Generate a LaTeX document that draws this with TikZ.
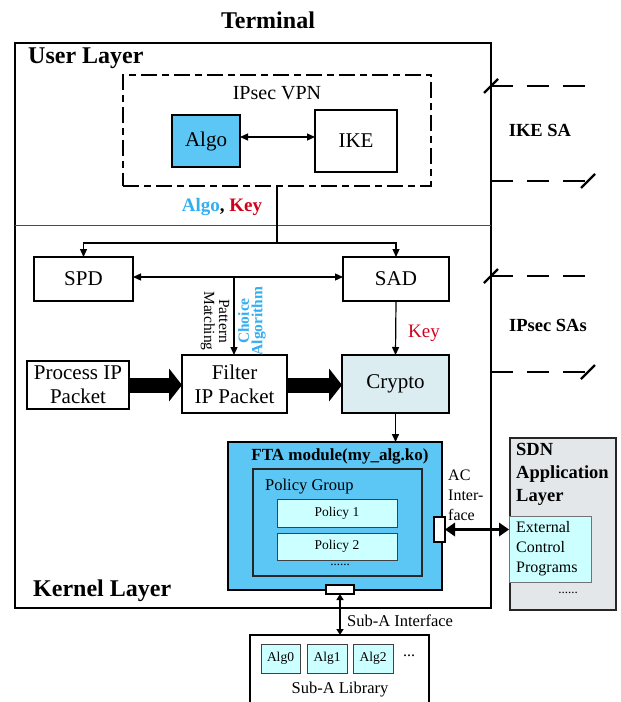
\documentclass[tikz,border=0pt]{standalone}
\usepackage{fontspec}
\setmainfont{Liberation Serif}
\usetikzlibrary{arrows.meta}
\definecolor{skyb}{HTML}{5CC6F4}
\definecolor{lcyan}{HTML}{CCFFFF}
\definecolor{cryptoc}{HTML}{DCEDF2}
\definecolor{sdnc}{HTML}{E3E7E9}
\definecolor{txtblue}{HTML}{35AEF0}
\definecolor{txtred}{HTML}{D0021B}
\begin{document}
\begin{tikzpicture}[x=1pt,y=-1pt,
  box/.style={draw=black, line width=1.2pt, inner sep=0pt, outer sep=0pt, align=center, font=\fontsize{21}{24}\selectfont},
  frame/.style={draw=black, line width=2pt, inner sep=0pt, outer sep=0pt},
  ttl/.style={font=\bfseries\fontsize{24}{28}\selectfont, inner sep=0pt},
  sa/.style={font=\bfseries\fontsize{18.5}{22}\selectfont, inner sep=0pt},
  thin/.style={line width=1.2pt, -{Triangle[length=8pt,width=7pt]}},
  thinboth/.style={line width=1.2pt, {Triangle[length=8pt,width=7pt]}-{Triangle[length=8pt,width=7pt]}},
  fat/.style={line width=15pt, -{Triangle[length=13pt,width=33pt,line width=0pt]}},
  sadash/.style={line width=2.2pt, dash pattern=on 22pt off 14pt},
  tick/.style={line width=2.2pt},
  small/.style={draw=black!75, line width=1pt, fill=lcyan, inner sep=0pt, outer sep=0pt, font=\fontsize{13.5}{15}\selectfont},
  port/.style={draw=black, line width=1.3pt, fill=white, inner sep=0pt, outer sep=0pt}
]
\useasboundingbox (0,0) rectangle (621,702);
\clip (0,0) rectangle (621,702);

% Terminal frame
\node[ttl] (title) at (268,20) {Terminal};
\node[frame, minimum width=476pt, minimum height=565pt] (term) at (253,325.5) {};
\node[ttl, anchor=west] (ul) at (28,58) {User Layer};
\node[ttl, anchor=west] (kl) at (33,591) {Kernel Layer};
\draw[line width=0.8pt, black!70] (term.west |- 0,225) -- (term.east |- 0,225);

% IPsec VPN
\node[draw=black, line width=1.3pt, dash pattern=on 16pt off 5pt on 7pt off 5pt, minimum width=308pt, minimum height=111pt, inner sep=0pt] (vpn) at (277,130.5) {};
\node[font=\fontsize{20}{23}\selectfont, inner sep=0pt] (vpnl) at (277,93) {IPsec VPN};
\node[box, fill=skyb, minimum width=68pt, minimum height=52pt] (algo) at (206,141) {Algo};
\node[box, line width=1.6pt, minimum width=82pt, minimum height=62pt] (ike) at (356,141) {IKE};
\draw[thinboth] ([yshift=4pt]algo.east) -- ([yshift=4pt]ike.west |- algo.east);
\node[font=\bfseries\fontsize{19}{22}\selectfont, inner sep=0pt] (ak) at (222,207) {\textcolor{txtblue}{Algo}, \textcolor{txtred}{Key}};

% SPD / SAD
\node[box, minimum width=99pt, minimum height=44pt] (spd) at (83.5,279) {SPD};
\node[box, minimum width=106pt, minimum height=44pt] (sad) at (396,279) {SAD};
\coordinate (br) at (277,243);
\draw[line width=1.2pt] (vpn.south) -- (br);
\draw[thin] (br) -| (spd.north);
\draw[thin] (br) -| (sad.north);
\coordinate (junc) at (234,277);
\draw[thinboth] (spd.east |- junc) -- (sad.west |- junc);

% Filter row
\node[box, minimum width=105pt, minimum height=58pt] (filter) at (234.5,384) {Filter\\IP Packet};
\node[box, minimum width=102pt, minimum height=48pt] (proc) at (78,385) {Process IP\\Packet};
\node[box, fill=cryptoc, minimum width=107pt, minimum height=58pt] (crypto) at (395.5,384) {Crypto};
\draw[thin] (junc) -- (junc |- filter.north);
\node[rotate=-90, align=center, font=\fontsize{15.5}{15}\selectfont, inner sep=0pt] (pm) at (215,321) {Pattern\\Matching};
\node[rotate=90, align=center, text=txtblue, font=\bfseries\fontsize{15.5}{13.5}\selectfont, inner sep=0pt] (ca) at (252,321) {Choice\\Algorithm};
\draw[fat] (proc.east) -- (filter.west |- proc.east);
\draw[fat] (filter.east |- proc.east) -- (crypto.west |- proc.east);
\draw[thin] (sad.south) -- (crypto.north);
\node[text=txtred, font=\fontsize{19}{22}\selectfont, inner sep=0pt] (key) at (424,333) {Key};

% FTA module
\node[draw=black, line width=2pt, fill=skyb, minimum width=214pt, minimum height=148pt, inner sep=0pt, outer sep=0pt] (fta) at (335,516) {};
\draw[thin, line width=1.6pt] (crypto.south) -- (crypto.south |- fta.north);
\node[font=\bfseries\fontsize{17}{20}\selectfont, inner sep=0pt] (ftal) at (340,456) {FTA module(my\_alg.ko)};
\node[draw=black!85, line width=1.5pt, fill=skyb, minimum width=169pt, minimum height=107pt, inner sep=0pt, outer sep=0pt] (pg) at (337.5,522.5) {};
\node[anchor=west, font=\fontsize{16.5}{19}\selectfont, inner sep=0pt] (pgl) at (265,487) {Policy Group};
\node[small, minimum width=120pt, minimum height=28pt] (p1) at (337,513) {Policy 1};
\node[small, minimum width=120pt, minimum height=27pt] (p2) at (337,546.5) {Policy 2};
\node[font=\fontsize{13}{15}\selectfont, inner sep=0pt] (pdots) at (340,565) {......};
\node[port, minimum width=11pt, minimum height=25pt] (ac) at (439.5,529.5) {};
\node[anchor=west, align=left, font=\fontsize{16}{20}\selectfont, inner sep=0pt] (acl) at (448,495) {AC\\Inter-\\face};

% SDN
\node[draw=black!85, line width=2pt, fill=sdnc, minimum width=106pt, minimum height=172pt, inner sep=0pt, outer sep=0pt] (sdn) at (563,524) {};
\node[anchor=north west, align=left, font=\bfseries\fontsize{18.5}{23}\selectfont, inner sep=0pt] (sdnl) at (516,443) {SDN\\Application\\Layer};
\node[draw=black!55, line width=1pt, fill=lcyan, minimum width=82pt, minimum height=66pt, inner sep=0pt, outer sep=0pt] (ext) at (550,549) {};
\node[anchor=west, align=left, font=\fontsize{16}{20}\selectfont, inner sep=0pt] (extl) at (516,549) {External\\Control\\Programs};
\node[font=\fontsize{13}{15}\selectfont, inner sep=0pt] (sdots) at (568,593) {......};
\draw[line width=3pt, {Triangle[length=10pt,width=14pt,line width=0pt]}-{Triangle[length=10pt,width=14pt,line width=0pt]}] (ac.east) -- (ext.west |- ac.east);

% Sub-A
\node[port, minimum width=28pt, minimum height=9pt] (subi) at (340,589.5) {};
\node[draw=black, line width=1.5pt, minimum width=179pt, minimum height=75pt, inner sep=0pt, outer sep=0pt] (lib) at (339.5,672.5) {};
\draw[line width=1.5pt, {Triangle[length=6pt,width=7pt]}-{Triangle[length=6pt,width=7pt]}] (subi.south) -- (subi.south |- lib.north);
\node[anchor=west, font=\fontsize{16.5}{19}\selectfont, inner sep=0pt] (subil) at (347,621) {Sub-A Interface};
\node[small, minimum width=39pt, minimum height=29pt] (a0) at (280.5,658.5) {Alg0};
\node[small, minimum width=40pt, minimum height=29pt] (a1) at (327,658.5) {Alg1};
\node[small, minimum width=40pt, minimum height=29pt] (a2) at (373,658.5) {Alg2};
\node[font=\fontsize{16}{19}\selectfont, inner sep=0pt] (adots) at (409,656) {...};
\node[font=\fontsize{16.5}{19}\selectfont, inner sep=0pt] (libl) at (340,690) {Sub-A Library};

% SA lines
\coordinate (i1) at (term.east |- 0,86);
\coordinate (i1e) at (585,86);
\coordinate (i2) at (term.east |- 0,181);
\coordinate (i2e) at (588,181);
\coordinate (s1) at (term.east |- 0,276);
\coordinate (s1e) at (585,276);
\coordinate (s2) at (term.east |- 0,372);
\coordinate (s2e) at (588,372);
\draw[sadash] (i1) -- (i1e);
\draw[tick] ([shift={(-7,7)}]i1) -- ([shift={(7,-7)}]i1);
\draw[sadash] (i2) -- (i2e);
\draw[tick] ([shift={(-7,7)}]i2e) -- ([shift={(7,-7)}]i2e);
\draw[sadash] (s1) -- (s1e);
\draw[tick] ([shift={(-7,7)}]s1) -- ([shift={(7,-7)}]s1);
\draw[sadash] (s2) -- (s2e);
\draw[tick] ([shift={(-7,7)}]s2e) -- ([shift={(7,-7)}]s2e);
\node[sa] (ikesa) at (540,130) {IKE SA};
\node[sa] (ipsa) at (548,325) {IPsec SAs};
\end{tikzpicture}
\end{document}
